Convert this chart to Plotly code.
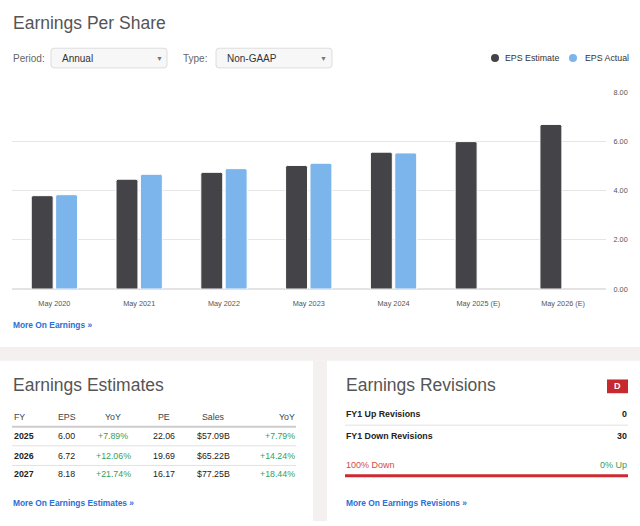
import plotly.graph_objects as go

W, H = 640, 526

# ---------------- data ----------------
categories = ["May 2020", "May 2021", "May 2022", "May 2023", "May 2024",
              "May 2025 (E)", "May 2026 (E)"]
eps_estimate = [3.80, 4.47, 4.75, 5.03, 5.57, 6.00, 6.70]
eps_actual = [3.84, 4.67, 4.90, 5.12, 5.54, None, None]
y_ticks = [0, 2, 4, 6, 8]

est_header = ["FY", "EPS", "YoY", "PE", "Sales", "YoY"]
est_fy = ["2025", "2026", "2027"]
est_eps = ["6.00", "6.72", "8.18"]
est_eps_yoy = ["+7.89%", "+12.06%", "+21.74%"]
est_pe = ["22.06", "19.69", "16.17"]
est_sales = ["$57.09B", "$65.22B", "$77.25B"]
est_sales_yoy = ["+7.79%", "+14.24%", "+18.44%"]

rev_labels = ["FY1 Up Revisions", "FY1 Down Revisions"]
rev_values = ["0", "30"]
rev_grade = "D"
rev_down_txt = "100% Down"
rev_up_txt = "0% Up"

# ---------------- helpers ----------------
FONT = "Liberation Sans, Arial, Helvetica, sans-serif"
DARK = "#434348"
LIGHT = "#7cb5ec"
GREEN = "#35a05a"
RED = "#cc2a2f"
LINK = "#2a6fd6"


def X(px):
    return px / W


def Y(py):
    return 1 - py / H


annotations = []
shapes = []


def text(t, x, y, size, color, xanchor="left", bold=False):
    if bold:
        t = "<b>" + t + "</b>"
    annotations.append(dict(
        text=t, x=X(x), y=Y(y), xref="paper", yref="paper",
        xanchor=xanchor, yanchor="middle", showarrow=False,
        font=dict(family=FONT, size=size, color=color), borderpad=0))


def rect(x0, y0, x1, y1, fill, line=None, lw=0, layer="below"):
    shapes.append(dict(
        type="rect", xref="paper", yref="paper",
        x0=X(x0), x1=X(x1), y0=Y(y1), y1=Y(y0),
        fillcolor=fill, line=dict(color=line or fill, width=lw), layer=layer))


def round_rect(x0, y0, x1, y1, r, fill, line, lw=1):
    p = [
        f"M {X(x0 + r)} {Y(y0)}",
        f"L {X(x1 - r)} {Y(y0)}",
        f"Q {X(x1)} {Y(y0)} {X(x1)} {Y(y0 + r)}",
        f"L {X(x1)} {Y(y1 - r)}",
        f"Q {X(x1)} {Y(y1)} {X(x1 - r)} {Y(y1)}",
        f"L {X(x0 + r)} {Y(y1)}",
        f"Q {X(x0)} {Y(y1)} {X(x0)} {Y(y1 - r)}",
        f"L {X(x0)} {Y(y0 + r)}",
        f"Q {X(x0)} {Y(y0)} {X(x0 + r)} {Y(y0)}",
        "Z",
    ]
    shapes.append(dict(type="path", xref="paper", yref="paper", path=" ".join(p),
                       fillcolor=fill, line=dict(color=line, width=lw), layer="below"))


def hline(x0, x1, y, color, lw=1):
    shapes.append(dict(
        type="line", xref="paper", yref="paper",
        x0=X(x0), x1=X(x1), y0=Y(y), y1=Y(y),
        line=dict(color=color, width=lw), layer="below"))


def dot(x, y, r, color):
    shapes.append(dict(
        type="circle", xref="paper", yref="paper",
        xsizemode="pixel", ysizemode="pixel",
        xanchor=X(x), yanchor=Y(y),
        x0=-r, x1=r, y0=-r, y1=r,
        fillcolor=color, line=dict(width=0)))


# ---------------- figure ----------------
fig = go.Figure()
fig.add_trace(go.Bar(name="EPS Estimate", x=categories, y=eps_estimate,
                     marker=dict(color=DARK, line=dict(color="#ffffff", width=1)),
                     hoverinfo="skip"))
fig.add_trace(go.Bar(name="EPS Actual", x=categories, y=eps_actual,
                     marker=dict(color=LIGHT, line=dict(color="#ffffff", width=1)),
                     hoverinfo="skip"))

# header section
text("Earnings Per Share", 12, 19, 17.5, "#555555")
text("Period:", 12, 55, 10, "#666666")
round_rect(51, 45, 167, 65, 3, "#f7f7f7", "#dddddd", 1)
text("Annual", 61, 55, 10, "#333333")
text("▼", 159, 55, 7, "#777777", xanchor="center")
text("Type:", 182, 55, 10, "#666666")
round_rect(216, 45, 332, 65, 3, "#f7f7f7", "#dddddd", 1)
text("Non-GAAP", 226, 55, 10, "#333333")
text("▼", 323, 55, 7, "#777777", xanchor="center")

# legend
dot(495, 55, 4, DARK)
text("EPS Estimate", 504, 55, 8.8, "#333333")
dot(573, 55, 4, LIGHT)
text("EPS Actual", 584, 55, 8.8, "#333333")

text("More On Earnings »", 12, 327, 8.4, LINK, bold=True)

# gray separators
rect(0, 349, 640, 363, "#f3f0ef")
rect(313, 363, 327, 526, "#f3f0ef")

# ---------------- Earnings Estimates panel ----------------
text("Earnings Estimates", 12, 388, 17.5, "#555555")
col_x = [13, 57, 113, 164, 213.5, 296]
col_anchor = ["left", "left", "center", "center", "center", "right"]
for h, cx, an in zip(est_header, col_x, col_anchor):
    text(h, cx, 420, 8.8, "#444444", xanchor=an)
hline(12, 296, 430, "#cccccc", 2)
row_y = [439.5, 459.5, 478.5]
for i, ry in enumerate(row_y):
    vals = [est_fy[i], est_eps[i], est_eps_yoy[i], est_pe[i], est_sales[i], est_sales_yoy[i]]
    colors = ["#222222", "#222222", GREEN, "#222222", "#222222", GREEN]
    for j, (v, cx, an) in enumerate(zip(vals, col_x, col_anchor)):
        text(v, cx, ry, 8.8, colors[j], xanchor=an, bold=(j == 0))
    if i < len(row_y) - 1:
        hline(12, 296, ry + 10, "#e2e2e2", 1)
text("More On Earnings Estimates »", 12, 508, 8.4, LINK, bold=True)

# ---------------- Earnings Revisions panel ----------------
text("Earnings Revisions", 345, 388, 17.5, "#555555")
rect(607, 382, 628, 396, "#c62a2f", layer="above")
text(rev_grade, 617.5, 389, 9, "#ffffff", xanchor="center", bold=True)
rev_y = [417.5, 439.5]
for lab, val, ry in zip(rev_labels, rev_values, rev_y):
    text(lab, 345, ry, 8.8, "#222222", bold=True)
    text(val, 628, ry, 8.8, "#222222", xanchor="right", bold=True)
hline(345, 628, 428.5, "#e2e2e2", 1)
text(rev_down_txt, 345, 469, 9, "#d24b4b")
text(rev_up_txt, 628, 469, 9, GREEN, xanchor="right")
rect(345, 478.5, 628, 481.5, RED)
text("More On Earnings Revisions »", 345, 508, 8.4, LINK, bold=True)

fig.update_layout(
    width=W, height=H, autosize=False,
    margin=dict(l=0, r=0, t=0, b=0, pad=0),
    paper_bgcolor="#ffffff", plot_bgcolor="#ffffff",
    showlegend=False,
    barmode="group", bargap=0.425, bargroupgap=0.1,
    barcornerradius=2,
    font=dict(family=FONT),
    xaxis=dict(domain=[X(12), X(605.5)], type="category",
               showgrid=False, showline=False, zeroline=False, ticks="",
               tickfont=dict(size=7.3, color="#555555", family=FONT),
               ticklabelstandoff=9, fixedrange=True),
    yaxis=dict(domain=[Y(290), Y(89.5)], side="right", range=[0, 8.02],
               tickvals=y_ticks, tickformat=".2f",
               showgrid=True, gridcolor="#e6e6e6", gridwidth=1,
               zeroline=True, zerolinecolor="#e3e3e3", zerolinewidth=2,
               showline=False, ticks="",
               tickfont=dict(size=7.3, color="#555555", family=FONT),
               ticklabelstandoff=7, fixedrange=True),
    annotations=annotations,
    shapes=shapes,
)

post = ("document.documentElement.style.margin='0';"
        "document.documentElement.style.overflow='hidden';"
        "document.body.style.margin='0';document.body.style.padding='0';"
        "document.body.style.overflow='hidden';")
fig.write_html("out.html", config=dict(displayModeBar=False), post_script=post)
